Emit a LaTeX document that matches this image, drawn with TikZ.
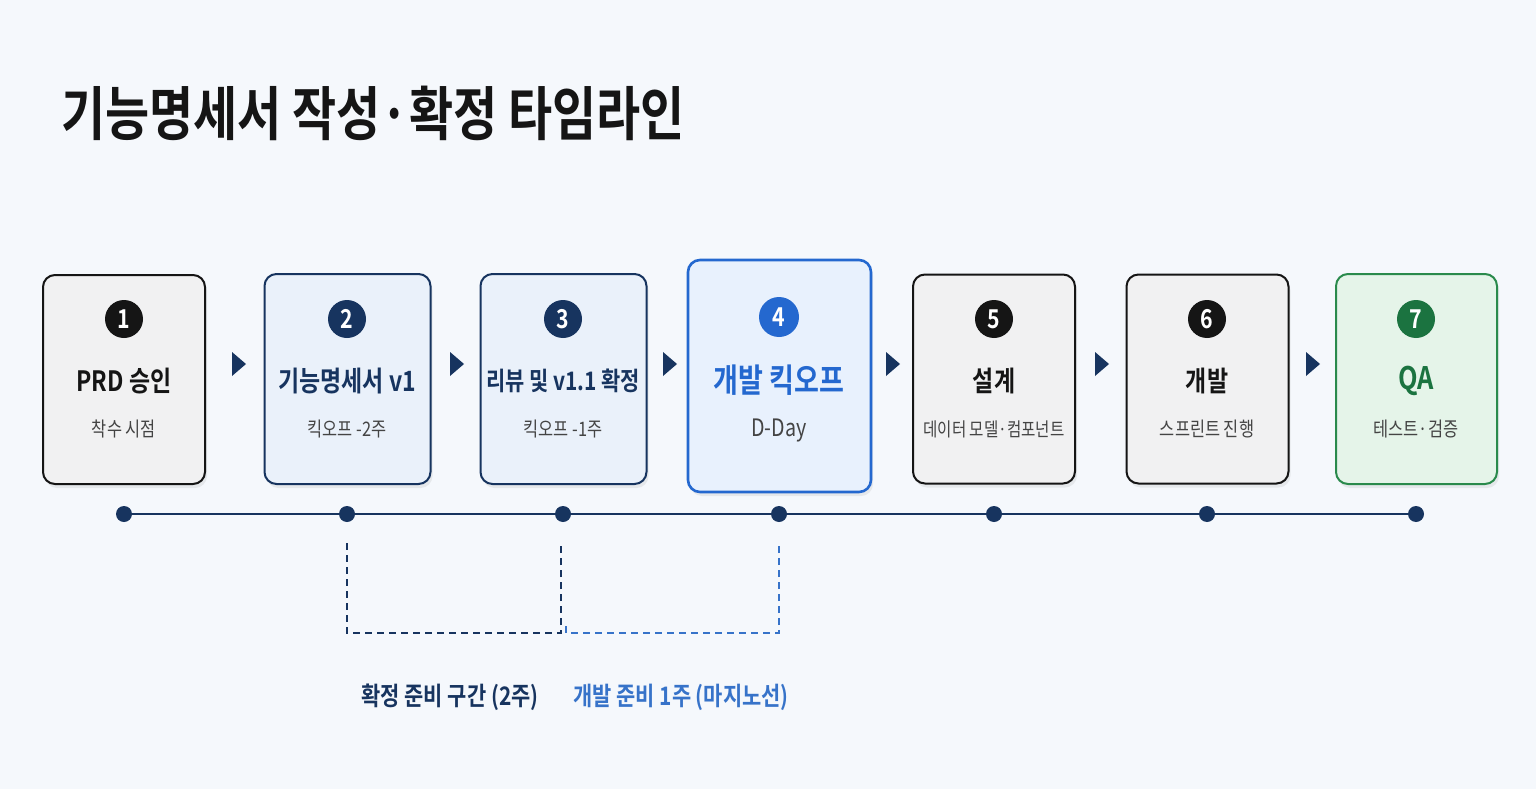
\documentclass[tikz,border=0pt]{standalone}
\usepackage{fontspec}
\setmainfont{Noto Sans CJK KR}[BoldFont={Noto Sans CJK KR Bold},FakeStretch=0.82]
\usetikzlibrary{shadows,calc}
\definecolor{bg}{HTML}{F5F8FC}
\definecolor{navy}{HTML}{17345F}
\definecolor{ink}{HTML}{151515}
\definecolor{graybox}{HTML}{F1F1F2}
\definecolor{lightblue}{HTML}{EAF1FA}
\definecolor{kickfill}{HTML}{E8F1FD}
\definecolor{kickblue}{HTML}{2468CF}
\definecolor{greenfill}{HTML}{E5F4E9}
\definecolor{greenline}{HTML}{2A8A4C}
\definecolor{greendark}{HTML}{1B7340}
\definecolor{subgray}{HTML}{444444}
\definecolor{dashblue}{HTML}{3773C9}
\begin{document}
\begin{tikzpicture}[x=1pt,y=-1pt,
  card/.style={rectangle,rounded corners=12pt,line width=2pt,
    drop shadow={opacity=0.13,shadow xshift=2pt,shadow yshift=-4pt}},
  graycard/.style={card,draw=ink,fill=graybox,minimum width=162pt,minimum height=209pt},
  bluecard/.style={card,draw=navy,fill=lightblue,minimum width=166pt,minimum height=210pt},
  kickcard/.style={card,draw=kickblue,fill=kickfill,line width=2.6pt,minimum width=183pt,minimum height=232pt},
  greencard/.style={card,draw=greenline,fill=greenfill,minimum width=161pt,minimum height=210pt},
  num/.style={circle,fill=#1,text=white,minimum size=38pt,inner sep=0pt,
    font=\bfseries\fontsize{26}{26}\selectfont},
  ttl/.style={text=#1,font=\bfseries\fontsize{28}{32}\selectfont,inner sep=0pt},
  sub/.style={text=subgray,font=\fontsize{20}{24}\selectfont,inner sep=0pt},
  dot/.style={circle,fill=navy,minimum size=16pt,inner sep=0pt},
  tri/.style={fill=navy},
  bracket/.style={line width=1.6pt,dash pattern=on 7pt off 5pt},
  lbl/.style={font=\bfseries\fontsize{25.5}{28}\selectfont,inner sep=0pt}
]
\fill[bg] (0,0) rectangle (1536,789);
\useasboundingbox (0,0) rectangle (1536,789);

% title
\node[anchor=west,inner sep=0pt,text=ink,font=\bfseries\fontsize{58.5}{64}\selectfont] (title) at (61,113) {기능명세서 작성·확정 타임라인};

% cards
\node[graycard] (b1) at (124,379.5) {};
\node[bluecard] (b2) at (347.5,379) {};
\node[bluecard] (b3) at (563.5,379) {};
\node[kickcard] (b4) at (779.5,376) {};
\node[graycard] (b5) at (994,379) {};
\node[graycard] (b6) at (1207.5,379) {};
\node[greencard] (b7) at (1416.5,379) {};

% numbers
\node[num=ink] (n1) at (124,319) {1};
\node[num=navy] (n2) at (347,319) {2};
\node[num=navy] (n3) at (563,319) {3};
\node[num=kickblue,minimum size=40pt] (n4) at (779,317) {4};
\node[num=ink] (n5) at (994,319) {5};
\node[num=ink] (n6) at (1207,319) {6};
\node[num=greendark] (n7) at (1416,319) {7};

% titles
\node[ttl=ink] (t1) at (124,381) {PRD 승인};
\node[ttl=navy] (t2) at (347,381) {기능명세서 v1};
\node[ttl=navy,font=\bfseries\fontsize{25.5}{30}\selectfont] (t3) at (563,381) {리뷰 및 v1.1 확정};
\node[ttl=kickblue,font=\bfseries\fontsize{33}{38}\selectfont] (t4) at (779,380) {개발 킥오프};
\node[ttl=ink] (t5) at (994,381) {설계};
\node[ttl=ink] (t6) at (1207,381) {개발};
\node[ttl=greendark,font=\bfseries\fontsize{31}{34}\selectfont] (t7) at (1416,381) {QA};

% subtitles
\node[sub] (s1) at (124,429) {착수 시점};
\node[sub] (s2) at (347,429) {킥오프 -2주};
\node[sub] (s3) at (563,429) {킥오프 -1주};
\node[sub,font=\fontsize{24}{28}\selectfont] (s4) at (779,431) {D-Day};
\node[sub,font=\fontsize{19}{24}\selectfont] (s5) at (994,429) {데이터 모델·컴포넌트};
\node[sub] (s6) at (1207,429) {스프린트 진행};
\node[sub] (s7) at (1416,429) {테스트·검증};

% arrows between cards
\foreach \x in {239,457,670,893,1102,1313}
  \fill[tri] (\x-7,352) -- (\x+7,364) -- (\x-7,376) -- cycle;

% timeline
\coordinate (c1) at (124,514);
\coordinate (c2) at (347,514);
\coordinate (c3) at (563,514);
\coordinate (c4) at (779,514);
\coordinate (c5) at (994,514);
\coordinate (c6) at (1207,514);
\coordinate (c7) at (1416,514);
\draw[navy,line width=1.8pt] (c1) -- (c7);
\foreach \i in {1,...,7} \node[dot] (d\i) at (c\i) {};

% brackets
\coordinate (p1) at (347,543);
\coordinate (p2) at (347,633);
\coordinate (p3) at (561,633);
\coordinate (p4) at (563,543);
\coordinate (q1) at (566,626);
\coordinate (q2) at (566,633);
\coordinate (q3) at (779,633);
\coordinate (q4) at (779,543);
\draw[bracket,navy] (p1) -- (p2) -- (p3) -- (p3 |- p4);
\draw[bracket,dashblue] (q1) -- (q2) -- (q3) -- (q4);

% labels
\node[lbl,text=navy] (l1) at (450,697) {확정 준비 구간 (2주)};
\node[lbl,text=dashblue] (l2) at (681,697) {개발 준비 1주 (마지노선)};
\end{tikzpicture}
\end{document}
